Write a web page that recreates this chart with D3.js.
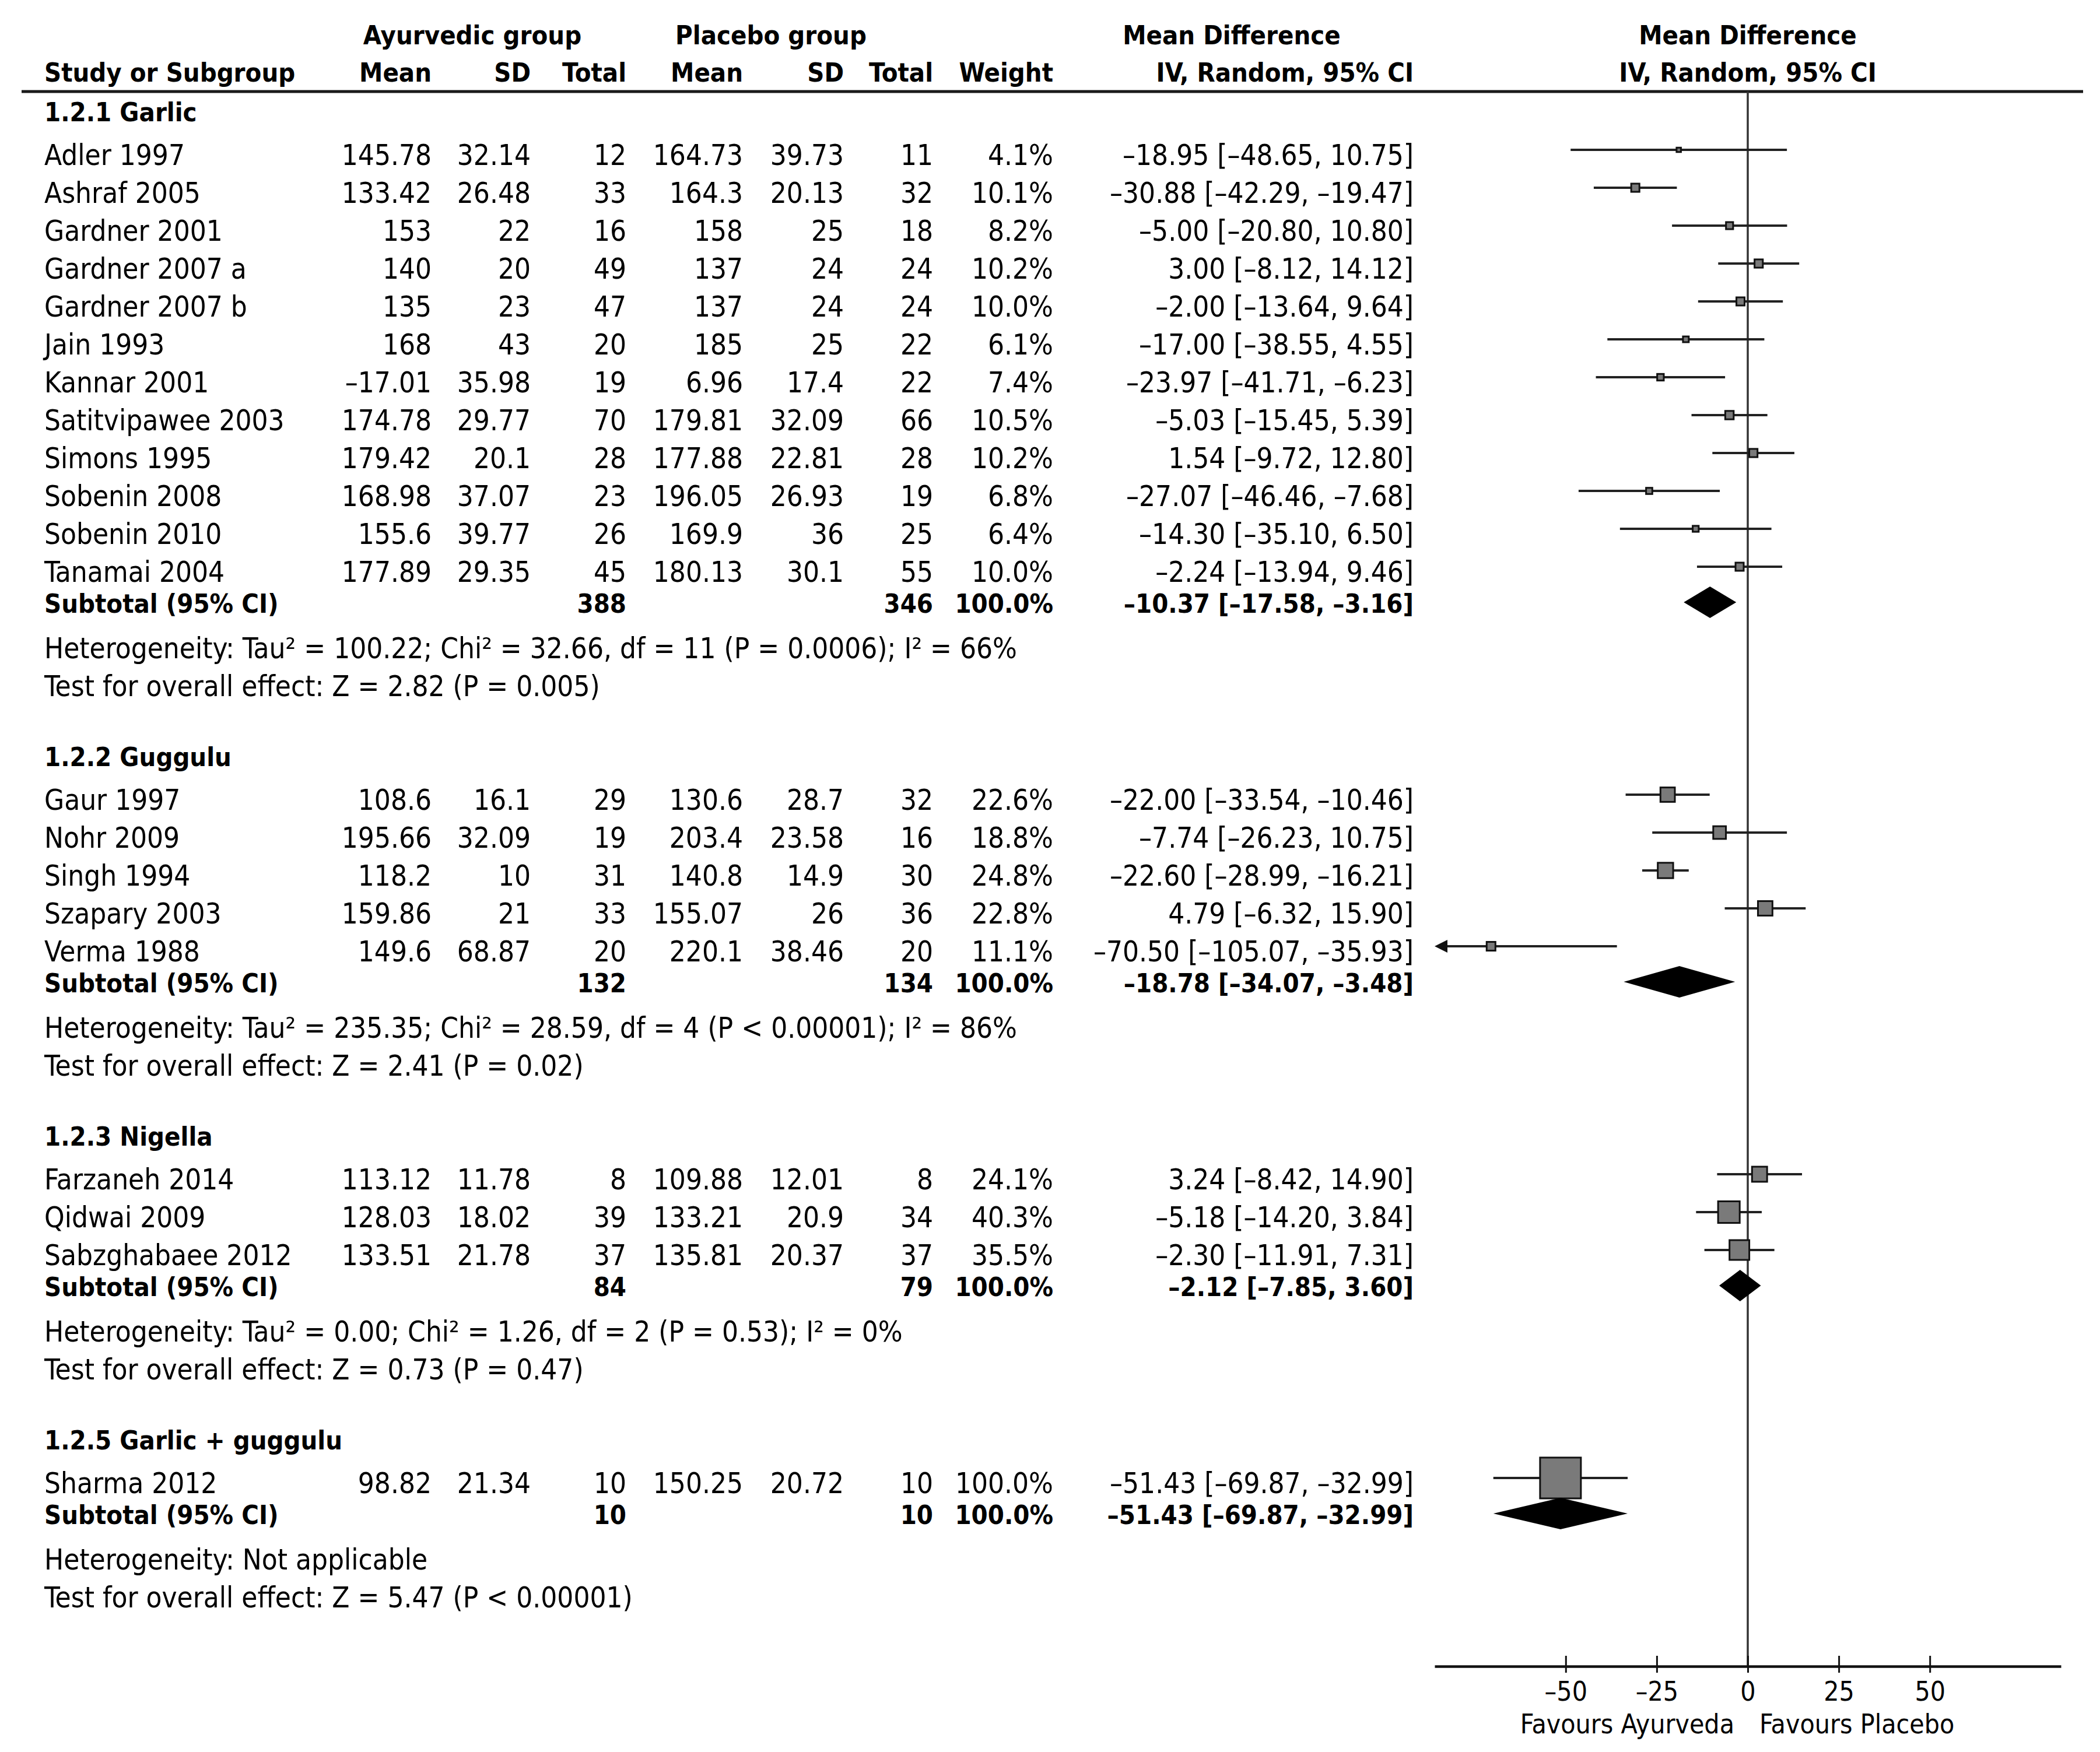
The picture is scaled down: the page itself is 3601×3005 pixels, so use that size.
<!DOCTYPE html>
<html>
<head>
<meta charset="utf-8">
<script src="https://cdn.jsdelivr.net/npm/d3@7"></script>
<style>
  body { margin: 0; background: #fff; }
  svg { display: block; }
  text { font-family: "DejaVu Sans Condensed", "DejaVu Sans", sans-serif; fill: #000; }
</style>
</head>
<body>
<div id="chart"></div>
<script>
// ─── Data ────────────────────────────────────────────────────────────────
const groupLabels = ['1.2.1 Garlic', '1.2.2 Guggulu', '1.2.3 Nigella', '1.2.5 Garlic + guggulu'];

const studyNames = [
  'Adler 1997', 'Ashraf 2005', 'Gardner 2001', 'Gardner 2007 a', 'Gardner 2007 b', 'Jain 1993',
  'Kannar 2001', 'Satitvipawee 2003', 'Simons 1995', 'Sobenin 2008', 'Sobenin 2010', 'Tanamai 2004',
  'Gaur 1997', 'Nohr 2009', 'Singh 1994', 'Szapary 2003', 'Verma 1988',
  'Farzaneh 2014', 'Qidwai 2009', 'Sabzghabaee 2012',
  'Sharma 2012'
];
const studyGroup = [0,0,0,0,0,0,0,0,0,0,0,0, 1,1,1,1,1, 2,2,2, 3];

const ayMean = [145.78, 133.42, 153, 140, 135, 168, -17.01, 174.78, 179.42, 168.98, 155.6, 177.89,
                108.6, 195.66, 118.2, 159.86, 149.6, 113.12, 128.03, 133.51, 98.82];
const aySD   = [32.14, 26.48, 22, 20, 23, 43, 35.98, 29.77, 20.1, 37.07, 39.77, 29.35,
                16.1, 32.09, 10, 21, 68.87, 11.78, 18.02, 21.78, 21.34];
const ayN    = [12, 33, 16, 49, 47, 20, 19, 70, 28, 23, 26, 45, 29, 19, 31, 33, 20, 8, 39, 37, 10];
const plMean = [164.73, 164.3, 158, 137, 137, 185, 6.96, 179.81, 177.88, 196.05, 169.9, 180.13,
                130.6, 203.4, 140.8, 155.07, 220.1, 109.88, 133.21, 135.81, 150.25];
const plSD   = [39.73, 20.13, 25, 24, 24, 25, 17.4, 32.09, 22.81, 26.93, 36, 30.1,
                28.7, 23.58, 14.9, 26, 38.46, 12.01, 20.9, 20.37, 20.72];
const plN    = [11, 32, 18, 24, 24, 22, 22, 66, 28, 19, 25, 55, 32, 16, 30, 36, 20, 8, 34, 37, 10];
const weight = [4.1, 10.1, 8.2, 10.2, 10.0, 6.1, 7.4, 10.5, 10.2, 6.8, 6.4, 10.0,
                22.6, 18.8, 24.8, 22.8, 11.1, 24.1, 40.3, 35.5, 100.0];
const md     = [-18.95, -30.88, -5.00, 3.00, -2.00, -17.00, -23.97, -5.03, 1.54, -27.07, -14.30, -2.24,
                -22.00, -7.74, -22.60, 4.79, -70.50, 3.24, -5.18, -2.30, -51.43];
const ciLow  = [-48.65, -42.29, -20.80, -8.12, -13.64, -38.55, -41.71, -15.45, -9.72, -46.46, -35.10, -13.94,
                -33.54, -26.23, -28.99, -6.32, -105.07, -8.42, -14.20, -11.91, -69.87];
const ciHigh = [10.75, -19.47, 10.80, 14.12, 9.64, 4.55, -6.23, 5.39, 12.80, -7.68, 6.50, 9.46,
                -10.46, 10.75, -16.21, 15.90, -35.93, 14.90, 3.84, 7.31, -32.99];

const subAyN  = [388, 132, 84, 10];
const subPlN  = [346, 134, 79, 10];
const subMD   = [-10.37, -18.78, -2.12, -51.43];
const subLow  = [-17.58, -34.07, -7.85, -69.87];
const subHigh = [-3.16, -3.48, 3.60, -32.99];

const heterogeneity = [
  'Heterogeneity: Tau² = 100.22; Chi² = 32.66, df = 11 (P = 0.0006); I² = 66%',
  'Heterogeneity: Tau² = 235.35; Chi² = 28.59, df = 4 (P < 0.00001); I² = 86%',
  'Heterogeneity: Tau² = 0.00; Chi² = 1.26, df = 2 (P = 0.53); I² = 0%',
  'Heterogeneity: Not applicable'
];
const overallTest = [
  'Test for overall effect: Z = 2.82 (P = 0.005)',
  'Test for overall effect: Z = 2.41 (P = 0.02)',
  'Test for overall effect: Z = 0.73 (P = 0.47)',
  'Test for overall effect: Z = 5.47 (P < 0.00001)'
];

const xDomain = [-86, 86];
const tickValues = [-50, -25, 0, 25, 50];
const favourLeft = 'Favours Ayurveda';
const favourRight = 'Favours Placebo';

// ─── Layout ──────────────────────────────────────────────────────────────
const W = 3601, H = 3005;
const FS = 49, FSB = 45, FSA = 46;      // normal, bold, axis font sizes
const BASE = 18;                         // baseline offset from row centre
const gap = { headToStudy: 75, study: 65, toSub: 53, subToHet: 78, hetToTest: 65, testToHead: 120 };

const col = {
  name: 76, ayMean: 740, aySD: 910, ayN: 1074, plMean: 1274, plSD: 1447, plN: 1600,
  weight: 1806, ci: 2424
};
const ruleY = 157, axisY = 2858;

const x = d3.scaleLinear().domain(xDomain).range([2460, 3534]);
const boxSize = d3.scalePow().exponent(0.7).domain([0, 100]).range([0, 70]);

const dash = v => (v < 0 ? '–' : '') + Math.abs(v);
const fmt2 = v => (v < 0 ? '–' : '') + Math.abs(v).toFixed(2);
const ciText = (m, l, h) => `${fmt2(m)} [${fmt2(l)}, ${fmt2(h)}]`;
const pct = v => v.toFixed(1) + '%';

// Build the row list
const rows = [];
let y = 190;
groupLabels.forEach((g, gi) => {
  rows.push({ type: 'group', y, label: g });
  const idx = studyGroup.map((s, i) => s === gi ? i : -1).filter(i => i >= 0);
  y += gap.headToStudy;
  idx.forEach((i, k) => {
    if (k > 0) y += gap.study;
    rows.push({ type: 'study', y, i });
  });
  y += gap.toSub;
  rows.push({ type: 'sub', y, gi });
  y += gap.subToHet;
  rows.push({ type: 'het', y, label: heterogeneity[gi] });
  y += gap.hetToTest;
  rows.push({ type: 'test', y, label: overallTest[gi] });
  y += gap.testToHead;
});

const svg = d3.select('#chart').append('svg')
  .attr('width', W).attr('height', H)
  .style('background', '#fff');

function txt(xp, yp, s, opts = {}) {
  return svg.append('text')
    .attr('x', xp).attr('y', yp)
    .attr('text-anchor', opts.anchor || 'start')
    .attr('font-size', opts.bold ? FSB : (opts.size || FS))
    .attr('font-weight', opts.bold ? 'bold' : 'normal')
    .text(s);
}

// ─── Header ──────────────────────────────────────────────────────────────
const h1 = 76, h2 = 140;
txt(810, h1, 'Ayurvedic group', { bold: true, anchor: 'middle' });
txt(1322, h1, 'Placebo group', { bold: true, anchor: 'middle' });
txt(2112, h1, 'Mean Difference', { bold: true, anchor: 'middle' });
txt(x(0), h1, 'Mean Difference', { bold: true, anchor: 'middle' });
txt(col.name, h2, 'Study or Subgroup', { bold: true });
txt(col.ayMean, h2, 'Mean', { bold: true, anchor: 'end' });
txt(col.aySD, h2, 'SD', { bold: true, anchor: 'end' });
txt(col.ayN, h2, 'Total', { bold: true, anchor: 'end' });
txt(col.plMean, h2, 'Mean', { bold: true, anchor: 'end' });
txt(col.plSD, h2, 'SD', { bold: true, anchor: 'end' });
txt(col.plN, h2, 'Total', { bold: true, anchor: 'end' });
txt(col.weight, h2, 'Weight', { bold: true, anchor: 'end' });
txt(col.ci, h2, 'IV, Random, 95% CI', { bold: true, anchor: 'end' });
txt(x(0), h2, 'IV, Random, 95% CI', { bold: true, anchor: 'middle' });

svg.append('line')
  .attr('x1', 37).attr('x2', 3572).attr('y1', ruleY).attr('y2', ruleY)
  .attr('stroke', '#1a1a1a').attr('stroke-width', 5);

// Zero line
svg.append('line')
  .attr('x1', x(0)).attr('x2', x(0)).attr('y1', ruleY).attr('y2', axisY)
  .attr('stroke', '#333').attr('stroke-width', 3.5);

// ─── Table rows ──────────────────────────────────────────────────────────
const marks = svg.append('g');
rows.forEach(r => {
  const b = r.y + BASE;
  if (r.type === 'group') {
    txt(col.name, b, r.label, { bold: true });
  } else if (r.type === 'study') {
    const i = r.i;
    txt(col.name, b, studyNames[i]);
    txt(col.ayMean, b, dash(ayMean[i]), { anchor: 'end' });
    txt(col.aySD, b, String(aySD[i]), { anchor: 'end' });
    txt(col.ayN, b, String(ayN[i]), { anchor: 'end' });
    txt(col.plMean, b, dash(plMean[i]), { anchor: 'end' });
    txt(col.plSD, b, String(plSD[i]), { anchor: 'end' });
    txt(col.plN, b, String(plN[i]), { anchor: 'end' });
    txt(col.weight, b, pct(weight[i]), { anchor: 'end' });
    txt(col.ci, b, ciText(md[i], ciLow[i], ciHigh[i]), { anchor: 'end' });

    // CI line + box
    const my = r.y - 8;
    const clipLo = ciLow[i] < xDomain[0];
    const arrowLen = 22;
    const lx = clipLo ? x(xDomain[0]) + arrowLen - 2 : x(ciLow[i]);
    marks.append('line')
      .attr('x1', lx).attr('x2', x(Math.min(ciHigh[i], xDomain[1])))
      .attr('y1', my).attr('y2', my)
      .attr('stroke', '#222').attr('stroke-width', 4);
    if (clipLo) {
      const ax = x(xDomain[0]);
      marks.append('path')
        .attr('d', `M${ax},${my} L${ax + arrowLen},${my - 11} L${ax + arrowLen},${my + 11} Z`)
        .attr('fill', '#111');
    }
    const s = boxSize(weight[i]);
    marks.append('rect')
      .attr('x', x(md[i]) - s / 2).attr('y', my - s / 2)
      .attr('width', s).attr('height', s)
      .attr('fill', '#7a7a7a').attr('stroke', '#111').attr('stroke-width', 3);
  } else if (r.type === 'sub') {
    const gi = r.gi;
    txt(col.name, b, 'Subtotal (95% CI)', { bold: true });
    txt(col.ayN, b, String(subAyN[gi]), { bold: true, anchor: 'end' });
    txt(col.plN, b, String(subPlN[gi]), { bold: true, anchor: 'end' });
    txt(col.weight, b, '100.0%', { bold: true, anchor: 'end' });
    txt(col.ci, b, ciText(subMD[gi], subLow[gi], subHigh[gi]), { bold: true, anchor: 'end' });
    const dy = r.y, hh = 27;
    marks.append('path')
      .attr('d', `M${x(subLow[gi])},${dy} L${x(subMD[gi])},${dy - hh} L${x(subHigh[gi])},${dy} L${x(subMD[gi])},${dy + hh} Z`)
      .attr('fill', '#000');
  } else {
    txt(col.name, b, r.label);
  }
});

// ─── Axis ────────────────────────────────────────────────────────────────
const axis = svg.append('g')
  .attr('transform', `translate(0, ${axisY})`)
  .call(d3.axisBottom(x).tickValues(tickValues).tickSizeOuter(0).tickFormat(v => dash(v)));
axis.select('.domain').attr('stroke', '#111').attr('stroke-width', 4.5);
axis.selectAll('.tick line').attr('y1', -18).attr('y2', 11).attr('stroke', '#111').attr('stroke-width', 3);
axis.selectAll('.tick text')
  .attr('y', 59).attr('dy', null)
  .attr('font-size', FSA)
  .attr('font-family', '"DejaVu Sans Condensed", "DejaVu Sans", sans-serif')
  .attr('fill', '#000');

txt(x(0) - 23, axisY + 115, favourLeft, { anchor: 'end', size: FSA });
txt(x(0) + 20, axisY + 115, favourRight, { anchor: 'start', size: FSA });
</script>
</body>
</html>
